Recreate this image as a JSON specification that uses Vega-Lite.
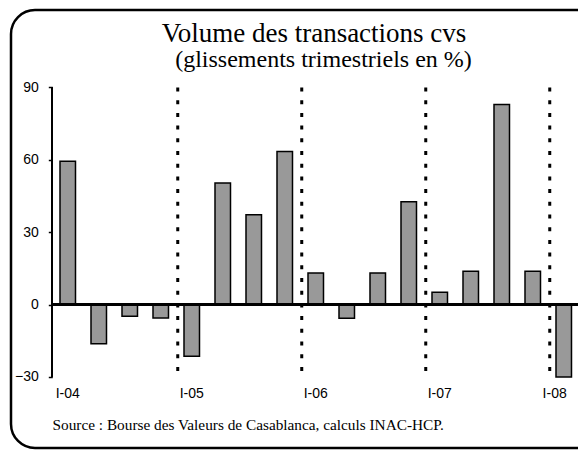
{
  "$schema": "https://vega.github.io/schema/vega-lite/v6.json",
  "autosize": {"type": "none"},
  "padding": {"left": 11, "top": 10, "right": 0, "bottom": 2},
  "width": 590,
  "height": 438,
  "background": "white",
  "config": {
    "view": {"stroke": "black", "strokeWidth": 2.5, "cornerRadius": 24}
  },
  "title": {
    "text": "Volume des transactions cvs",
    "font": "Liberation Serif",
    "fontSize": 27,
    "fontWeight": "normal",
    "color": "black",
    "anchor": "middle",
    "frame": "group",
    "baseline": "alphabetic",
    "offset": -59,
    "dx": 8
  },
  "data": {
    "values": [
      {"t": "I-04", "v": 59.4},
      {"t": "II-04", "v": -16.2},
      {"t": "III-04", "v": -4.8},
      {"t": "IV-04", "v": -5.5},
      {"t": "I-05", "v": -21.4},
      {"t": "II-05", "v": 50.4},
      {"t": "III-05", "v": 37.3},
      {"t": "IV-05", "v": 63.5},
      {"t": "I-06", "v": 13.1},
      {"t": "II-06", "v": -5.7},
      {"t": "III-06", "v": 13.1},
      {"t": "IV-06", "v": 42.6},
      {"t": "I-07", "v": 5.1},
      {"t": "II-07", "v": 13.8},
      {"t": "III-07", "v": 82.9},
      {"t": "IV-07", "v": 13.8},
      {"t": "I-08", "v": -30.0}
    ]
  },
  "layer": [
    {
      "mark": {"type": "bar", "fill": "#999999", "stroke": "black", "strokeWidth": 1.5},
      "encoding": {
        "x": {
          "field": "t",
          "type": "nominal",
          "sort": null,
          "scale": {"paddingInner": 0.5, "paddingOuter": 1, "align": 0.7903, "round": false, "rangeMax": 573.5},
          "axis": {
            "orient": "bottom",
            "offset": -66,
            "domain": false,
            "ticks": false,
            "grid": false,
            "labelAngle": 0,
            "labelExpr": "indexof(datum.label, 'I-') == 0 ? datum.label : ''",
            "labelAlign": {"condition": {"test": "datum.value == 'I-08'", "value": "right"}, "value": "center"},
            "labelOffset": {"condition": {"test": "datum.value == 'I-08'", "value": 3}, "value": 0},
            "labelFont": "Liberation Sans",
            "labelFontSize": 14,
            "labelColor": "black",
            "labelPadding": 4,
            "labelOverlap": false,
            "title": "Source : Bourse des Valeurs de Casablanca, calculs INAC-HCP.",
            "titleFont": "Liberation Serif",
            "titleFontSize": 15.3,
            "titleFontWeight": "normal",
            "titleColor": "black",
            "titleX": 41,
            "titleY": 47,
            "titleAlign": "left",
            "titleBaseline": "alphabetic"
          }
        },
        "y": {
          "field": "v",
          "type": "quantitative",
          "scale": {"domain": [-59.43, 122.12], "nice": false, "zero": false},
          "axis": {
            "orient": "left",
            "offset": -41.3,
            "values": [-30, 0, 30, 60, 90],
            "domain": false,
            "grid": false,
            "tickColor": "black",
            "tickWidth": 1.5,
            "tickSize": 4,
            "labelFont": "Liberation Sans",
            "labelFontSize": 14,
            "labelColor": "black",
            "labelPadding": 10,
            "title": "(glissements trimestriels en %)",
            "titleAngle": 0,
            "titleFont": "Liberation Serif",
            "titleFontSize": 24,
            "titleFontWeight": "normal",
            "titleColor": "black",
            "titleAlign": "center",
            "titleBaseline": "alphabetic",
            "titleX": 270.7,
            "titleY": 56.7
          }
        }
      }
    },
    {
      "mark": {"type": "rule", "stroke": "black", "strokeWidth": 1.5, "xOffset": -15.5, "x2Offset": 30},
      "encoding": {
        "x": {"datum": "I-04", "type": "nominal"},
        "x2": {"datum": "I-08"},
        "y": {"datum": 0, "type": "quantitative"}
      }
    },
    {
      "transform": [{"filter": "indexof(datum.t, 'I-') == 0 && datum.t != 'I-04'"}],
      "mark": {"type": "rule", "stroke": "black", "strokeWidth": 3, "strokeDash": [4, 8.7], "xOffset": -14},
      "encoding": {
        "x": {"field": "t", "type": "nominal", "sort": null},
        "y": {"datum": 90, "type": "quantitative"},
        "y2": {"datum": -30}
      }
    },
    {
      "mark": {"type": "rule", "stroke": "black", "strokeWidth": 1.5, "xOffset": -15.5},
      "encoding": {
        "x": {"datum": "I-04", "type": "nominal"},
        "y": {"datum": -30, "type": "quantitative"},
        "y2": {"datum": 90}
      }
    }
  ]
}
